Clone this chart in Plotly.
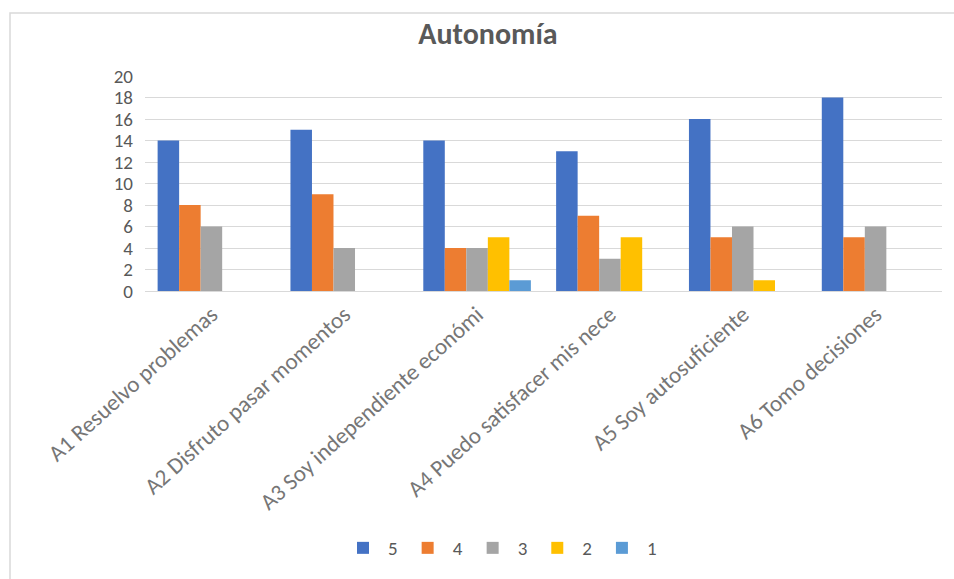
import plotly.graph_objects as go

tick_text = ["A1 Resuelvo problemas", "A2 Disfruto pasar momentos", "A3 Soy independiente económi",
             "A4 Puedo satisfacer mis nece", "A5 Soy autosuficiente", "A6 Tomo decisiones"]
series_names = ["5", "4", "3", "2", "1"]
s5 = [14, 15, 14, 13, 16, 18]
s4 = [8, 9, 4, 7, 5, 5]
s3 = [6, 4, 4, 3, 6, 6]
s2 = [0, 0, 5, 5, 1, 0]
s1 = [0, 0, 1, 0, 0, 0]
colors = ["#4472C4", "#ED7D31", "#A5A5A5", "#FFC000", "#5B9BD5"]

W, H = 954, 579
L, R, T, B = 145, 12, 76, 288
FONT = "Carlito, Lato, Open Sans, sans-serif"

fig = go.Figure()
for name, vals, c in zip(series_names, [s5, s4, s3, s2, s1], colors):
    fig.add_trace(go.Bar(x=tick_text, y=vals, name=name, marker=dict(color=c, line=dict(width=0))))

pw = W - L - R
ph = H - T - B
def px(x):
    return (x - L) / pw
def py(y):
    return (H - B - y) / ph

fig.update_layout(
    width=W, height=H,
    margin=dict(l=L, r=R, t=T, b=B, autoexpand=False),
    paper_bgcolor="white", plot_bgcolor="white",
    barmode="group", bargap=0.19, bargroupgap=0,
    font=dict(family=FONT, color="#595959"),
    title=dict(text="Autonomía", x=488 / W, xref="container", xanchor="center",
               y=1 - 33 / H, yref="container", yanchor="middle",
               font=dict(size=30, color="#595959", weight="bold")),
    xaxis=dict(tickangle=-42, tickfont=dict(size=23, color="#767676"), showgrid=False,
               showline=True, linecolor="#D9D9D9", linewidth=1, ticks=""),
    yaxis=dict(range=[0, 20], dtick=2, tickfont=dict(size=19, color="#595959"),
               showgrid=True, gridcolor="#D9D9D9", gridwidth=1, zeroline=False,
               ticks="", ticklabelstandoff=11, fixedrange=True),
    legend=dict(orientation="h", x=px(500), xanchor="center", y=py(548), yanchor="middle",
                font=dict(size=19, color="#595959"), itemwidth=40, traceorder="normal",
                bgcolor="rgba(0,0,0,0)"),
    showlegend=True,
    shapes=[dict(type="rect", xref="paper", yref="paper",
                 x0=px(10), y0=py(13), x1=px(W + 5), y1=py(H + 5),
                 line=dict(color="#D9D9D9", width=1.5), fillcolor="rgba(0,0,0,0)", layer="below")],
)

fig.write_html("out.html")
